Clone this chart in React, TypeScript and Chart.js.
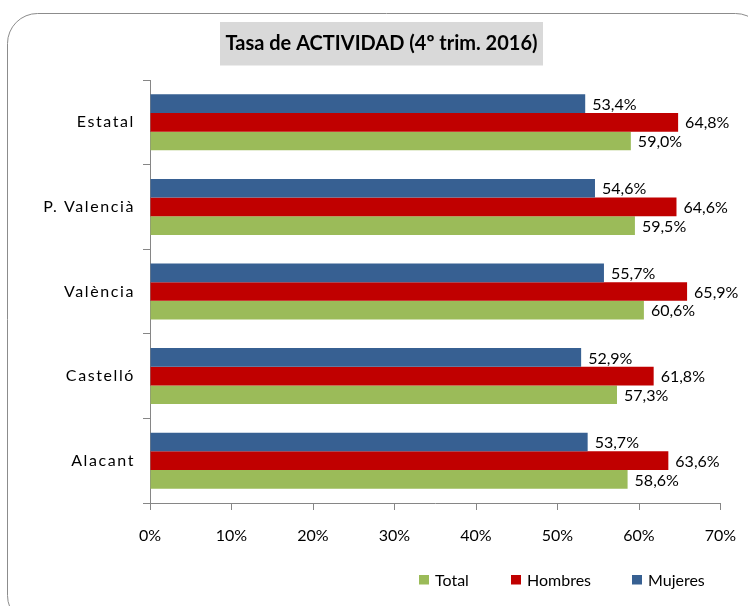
import React, { useEffect, useRef } from "react";
import { Chart, registerables } from "chart.js";

Chart.register(...registerables);

const categories = ["Estatal", "P. Valencià", "València", "Castelló", "Alacant"];
const mujeres = [53.4, 54.6, 55.7, 52.9, 53.7];
const hombres = [64.8, 64.6, 65.9, 61.8, 63.6];
const total = [59.0, 59.5, 60.6, 57.3, 58.6];
const titleText = "Tasa de ACTIVIDAD (4º trim. 2016)";
const legendOrder = ["Total", "Hombres", "Mujeres"];

const FONT = "Lato, 'Open Sans', sans-serif";
const AXIS = "#868686";

const fmt = (v: number) => v.toFixed(1).replace(".", ",") + "%";

const decorPlugin = {
  id: "decor",
  beforeDraw(chart: any) {
    const ctx = chart.ctx;
    ctx.save();
    ctx.fillStyle = "#fff";
    ctx.fillRect(0, 0, chart.width, chart.height);
    // frame
    ctx.strokeStyle = "#8c8c8c";
    ctx.lineWidth = 1;
    ctx.beginPath();
    ctx.roundRect(7.5, 13.5, 758, 612, 30);
    ctx.stroke();
    // title box
    ctx.fillStyle = "#d9d9d9";
    ctx.fillRect(220, 22, 323, 43.5);
    ctx.fillStyle = "#000";
    ctx.font = "bold 20px " + FONT;
    ctx.textAlign = "center";
    ctx.textBaseline = "middle";
    ctx.fillText(titleText, 381.5, 44);
    ctx.restore();
  },
  afterDatasetsDraw(chart: any) {
    const ctx = chart.ctx;
    ctx.save();
    ctx.font = "16px " + FONT;
    ctx.fillStyle = "#000";
    ctx.textAlign = "left";
    ctx.textBaseline = "middle";
    chart.data.datasets.forEach((ds: any, i: number) => {
      const meta = chart.getDatasetMeta(i);
      meta.data.forEach((bar: any, j: number) => {
        ctx.fillText(fmt(ds.data[j]), bar.x + 7, bar.y + 1);
      });
    });
    ctx.restore();
    // letter spacing for the y-axis labels (drawn in a later layer)
    ctx.letterSpacing = "1.6px";
  },
  afterDraw(chart: any) {
    const ctx = chart.ctx;
    ctx.letterSpacing = "0px";
    ctx.save();
    ctx.font = "16px " + FONT;
    ctx.textAlign = "left";
    ctx.textBaseline = "middle";
    const xs = [419, 511, 632];
    legendOrder.forEach((name, k) => {
      const ds = chart.data.datasets.find((d: any) => d.label === name);
      ctx.fillStyle = ds.backgroundColor;
      ctx.fillRect(xs[k], 575, 10, 9.5);
      ctx.fillStyle = "#000";
      ctx.fillText(name, xs[k] + 16, 581);
    });
    ctx.restore();
  },
};

export default function App() {
  const ref = useRef<HTMLCanvasElement>(null);
  useEffect(() => {
    let chart: Chart | null = null;
    let cancelled = false;
    const make = () => {
      if (cancelled || !ref.current) return;
      chart = new Chart(ref.current, {
        type: "bar",
        data: {
          labels: categories,
          datasets: [
            { label: "Mujeres", data: mujeres, backgroundColor: "#376092" },
            { label: "Hombres", data: hombres, backgroundColor: "#c00000" },
            { label: "Total", data: total, backgroundColor: "#9bbb59" },
          ],
        },
        options: {
          indexAxis: "y",
          responsive: false,
          animation: false,
          devicePixelRatio: 1,
          layout: { padding: { left: 0, top: 80, right: 27.5, bottom: 0 } },
          datasets: { bar: { categoryPercentage: 0.662, barPercentage: 1.0 } },
          plugins: { legend: { display: false }, title: { display: false }, tooltip: { enabled: false } },
          scales: {
            x: {
              min: 0,
              max: 70,
              ticks: {
                stepSize: 10,
                padding: 16,
                color: "#000",
                font: { family: FONT, size: 16 },
                callback: (v: any) => v + "%",
              },
              grid: { drawOnChartArea: false, drawTicks: true, tickLength: 7, color: AXIS },
              border: { display: true, color: AXIS, width: 1 },
              afterFit: (s: any) => {
                s.height = 103;
                s.paddingLeft = 0;
                s.paddingRight = 0;
              },
            },
            y: {
              ticks: {
                padding: 8,
                color: "#000",
                z: 1,
                font: { family: FONT, size: 16 },
              },
              grid: { drawOnChartArea: false, drawTicks: true, tickLength: 7, color: AXIS, offset: true },
              border: { display: true, color: AXIS, width: 1 },
              afterFit: (s: any) => { s.width = 150; },
            },
          },
        },
        plugins: [decorPlugin],
      } as any);
    };
    (document as any).fonts
      ? Promise.all([
          (document as any).fonts.load("16px Lato"),
          (document as any).fonts.load("bold 20px Lato"),
        ]).then(make, make)
      : make();
    return () => {
      cancelled = true;
      if (chart) chart.destroy();
    };
  }, []);
  return (
    <div style={{ position: "absolute", left: 0, top: 0, width: 748, height: 606 }}>
      <canvas ref={ref} width={748} height={606} style={{ display: "block" }} />
    </div>
  );
}
